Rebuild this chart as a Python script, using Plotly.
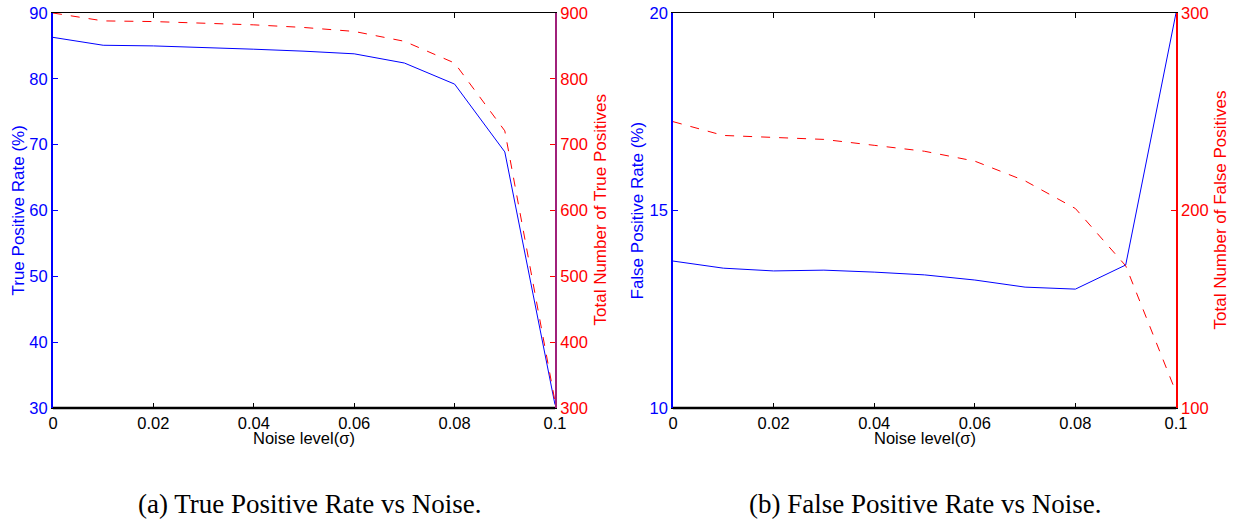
import plotly.graph_objects as go

noise = [0, 0.01, 0.02, 0.03, 0.04, 0.05, 0.06, 0.07, 0.08, 0.09, 0.1]
tp_rate = [86.3, 85.1, 85.0, 84.8, 84.5, 84.2, 83.8, 82.4, 79.2, 68.9, 30.5]
tp_count = [900, 888, 887, 885, 882, 878, 872, 857, 824, 721, 310]
fp_rate = [13.72, 13.54, 13.47, 13.49, 13.44, 13.37, 13.24, 13.06, 13.01, 13.62, 20.0]
fp_count = [245, 238, 237, 236, 233, 230, 225, 215, 201, 172, 108]

x_ticks = [0, 0.02, 0.04, 0.06, 0.08, 0.1]
x_ticktext = ["0", "0.02", "0.04", "0.06", "0.08", "0.1"]

BLUE = "#0000FF"
RED = "#FF0000"
PURPLE = "#A0207A"
W, H = 1233, 523
FONT = "Liberation Sans, Arial"
FS = 16.5
FT = 17

fig = go.Figure()
fig.add_trace(go.Scatter(x=noise, y=tp_rate, mode="lines", line=dict(color=BLUE, width=1),
                         xaxis="x", yaxis="y", showlegend=False))
fig.add_trace(go.Scatter(x=noise, y=tp_count, mode="lines", line=dict(color=RED, width=1, dash="dash"),
                         xaxis="x", yaxis="y2", showlegend=False))
fig.add_trace(go.Scatter(x=noise, y=fp_rate, mode="lines", line=dict(color=BLUE, width=1),
                         xaxis="x2", yaxis="y3", showlegend=False))
fig.add_trace(go.Scatter(x=noise, y=fp_count, mode="lines", line=dict(color=RED, width=1, dash="dash"),
                         xaxis="x2", yaxis="y4", showlegend=False))

top_px, bot_px = 13, 408
ydom = [(H - bot_px) / H, (H - top_px) / H]
xd1 = [53 / W, 555 / W]
xd2 = [673 / W, 1176 / W]


def xaxis(dom, anchor):
    return dict(domain=dom, anchor=anchor, range=[0, 0.1], tickvals=x_ticks, ticktext=x_ticktext,
                showline=True, linecolor="black", linewidth=1, mirror="ticks",
                ticks="inside", ticklen=5, tickcolor="black", showgrid=False, zeroline=False,
                automargin=False,
                tickfont=dict(family=FONT, size=FS, color="black"))


def yaxis(rng, dtick, color, side, anchor, overlaying=None, lw=2):
    d = dict(domain=ydom, anchor=anchor, range=rng, dtick=dtick, side=side,
             showline=True, linecolor=color, linewidth=lw, ticks="inside", ticklen=5,
             tickcolor=color, showgrid=False, zeroline=False, automargin=False,
             tickfont=dict(family=FONT, size=FS, color=color))
    if overlaying:
        d["overlaying"] = overlaying
    return d


fig.update_layout(
    template="none",
    width=W, height=H, margin=dict(l=0, r=0, t=0, b=0, autoexpand=False),
    paper_bgcolor="white", plot_bgcolor="white",
    xaxis=xaxis(xd1, "y"),
    xaxis2=xaxis(xd2, "y3"),
    yaxis=yaxis([30, 90], 10, BLUE, "left", "x", lw=2),
    yaxis2=yaxis([300, 900], 100, RED, "right", "x", overlaying="y", lw=2),
    yaxis3=yaxis([10, 20], 5, BLUE, "left", "x2", lw=1.5),
    yaxis4=yaxis([100, 300], 100, RED, "right", "x2", overlaying="y3", lw=1.5),
)
fig.update_layout(yaxis2=dict(linecolor=PURPLE))

# thicker bottom axis lines
for xd in (xd1, xd2):
    fig.add_shape(type="line", xref="paper", yref="paper", x0=xd[0], x1=xd[1],
                  y0=ydom[0], y1=ydom[0], line=dict(color="black", width=2.5))

ymid = (ydom[0] + ydom[1]) / 2
ann = [
    dict(text="True Positive Rate (%)", x=18 / W, y=ymid, color=BLUE, angle=-90, size=FT),
    dict(text="Total Number of True Positives", x=600 / W, y=ymid, color=RED, angle=-90, size=FT),
    dict(text="False Positive Rate (%)", x=637 / W, y=ymid, color=BLUE, angle=-90, size=FT),
    dict(text="Total Number of False Positives", x=1220 / W, y=ymid, color=RED, angle=-90, size=FT),
    dict(text="Noise level(σ)", x=(xd1[0] + xd1[1]) / 2, y=(H - 438) / H, color="black", angle=0, size=FS),
    dict(text="Noise level(σ)", x=(xd2[0] + xd2[1]) / 2, y=(H - 438) / H, color="black", angle=0, size=FS),
]
for a in ann:
    fig.add_annotation(text=a["text"], x=a["x"], y=a["y"], xref="paper", yref="paper",
                       showarrow=False, textangle=a["angle"], xanchor="center", yanchor="middle",
                       font=dict(family=FONT, size=a["size"], color=a["color"]))

cap = dict(family="Liberation Serif, Times New Roman", size=27, color="black")
fig.add_annotation(text="(a) True Positive Rate vs Noise.", x=310 / W, y=(H - 504) / H,
                   xref="paper", yref="paper", showarrow=False, font=cap, xanchor="center", yanchor="middle")
fig.add_annotation(text="(b) False Positive Rate vs Noise.", x=925 / W, y=(H - 504) / H,
                   xref="paper", yref="paper", showarrow=False, font=cap, xanchor="center", yanchor="middle")

fig.write_html("out.html")
